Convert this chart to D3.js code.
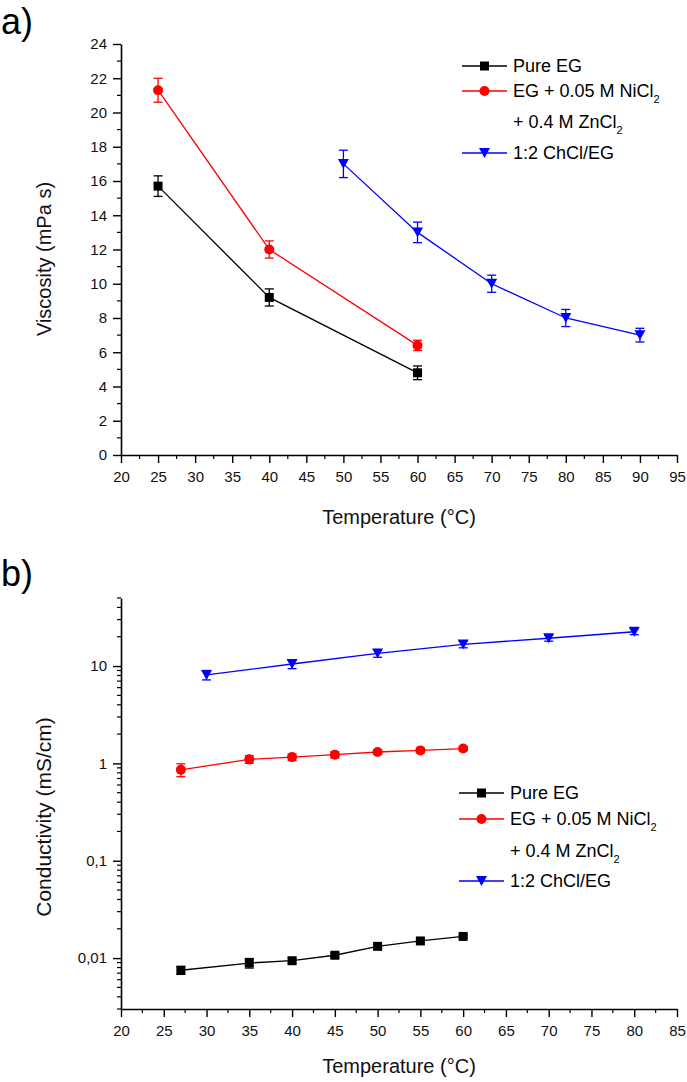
<!DOCTYPE html>
<html><head><meta charset="utf-8">
<script src="https://cdn.jsdelivr.net/npm/d3@7"></script>
<style>
html,body{margin:0;padding:0;background:#fff;}
svg{display:block;font-family:"Liberation Sans",Arial,sans-serif;}
</style></head>
<body>
<script>
// ---------- Data: (a) viscosity ----------
const seriesNames = ["Pure EG", "EG + 0.05 M NiCl2 + 0.4 M ZnCl2", "1:2 ChCl/EG"];
const colors = ["#000000", "#ff0000", "#0000ff"];
const symbols = ["square", "circle", "triangleDown"];

const viscEG_T = [25, 40, 60];
const viscEG = [15.7, 9.2, 4.8];
const viscEG_err = [0.6, 0.5, 0.4];
const viscNi_T = [25, 40, 60];
const viscNi = [21.3, 12.0, 6.4];
const viscNi_err = [0.7, 0.5, 0.3];
const viscChCl_T = [50, 60, 70, 80, 90];
const viscChCl = [17.0, 13.0, 10.0, 8.0, 7.0];
const viscChCl_err = [0.8, 0.6, 0.5, 0.5, 0.4];
const viscYTicks = [0, 2, 4, 6, 8, 10, 12, 14, 16, 18, 20, 22, 24];
const viscXTicks = [20, 25, 30, 35, 40, 45, 50, 55, 60, 65, 70, 75, 80, 85, 90, 95];

// ---------- Data: (b) conductivity ----------
const condEG_T = [27, 35, 40, 45, 50, 55, 60];
const condEG = [0.0075, 0.0089, 0.0094, 0.0107, 0.0132, 0.0150, 0.0167];
const condEG_err = [0.0007, 0.0010, 0.0006, 0.0006, 0.0006, 0.0006, 0.0006];
const condNi_T = [27, 35, 40, 45, 50, 55, 60];
const condNi = [0.86, 1.10, 1.16, 1.23, 1.31, 1.36, 1.42];
const condNi_err = [0.13, 0.10, 0.09, 0.09, 0.07, 0.07, 0.07];
const condChCl_T = [30, 40, 50, 60, 70, 80];
const condChCl = [8.1, 10.5, 13.5, 16.7, 19.3, 22.5];
const condChCl_err = [0.9, 1.1, 1.2, 1.3, 1.3, 1.5];
const condYTicks = [0.01, 0.1, 1, 10];
const condYLabels = ["0,01", "0,1", "1", "10"];
const condXTicks = [20, 25, 30, 35, 40, 45, 50, 55, 60, 65, 70, 75, 80, 85];

const W = 687, H = 1082;
const svg = d3.select("body").append("svg").attr("width", W).attr("height", H);

function symbolPath(type, size) {
  const s = size;
  if (type === "square") return `M${-s/2},${-s/2}h${s}v${s}h${-s}Z`;
  if (type === "circle") return d3.symbol(d3.symbolCircle, Math.PI * (s/2) * (s/2))();
  const h = s * 0.9;
  return `M${-s/2},${-h/2}L${s/2},${-h/2}L0,${h/2}Z`;
}
function symSize(sym) { return sym === "triangleDown" ? 11 : (sym === "circle" ? 10 : 9); }

function drawSeries(g, x, y, xs, ys, es, color, sym) {
  const pts = xs.map((t, i) => ({ t, v: ys[i], e: es[i] }));
  const line = d3.line().x(d => x(d.t)).y(d => y(d.v));
  g.append("path").datum(pts).attr("d", line).attr("fill", "none")
    .attr("stroke", color).attr("stroke-width", 1.3);
  const eb = g.append("g").attr("stroke", color).attr("stroke-width", 1.3);
  pts.forEach(d => {
    const y1 = y(d.v + d.e), y2 = y(Math.max(d.v - d.e, 1e-6));
    const cx = x(d.t);
    eb.append("line").attr("x1", cx).attr("x2", cx).attr("y1", y1).attr("y2", y2);
    eb.append("line").attr("x1", cx - 4.5).attr("x2", cx + 4.5).attr("y1", y1).attr("y2", y1);
    eb.append("line").attr("x1", cx - 4.5).attr("x2", cx + 4.5).attr("y1", y2).attr("y2", y2);
  });
  g.selectAll(null).data(pts).enter().append("path")
    .attr("transform", d => `translate(${x(d.t)},${y(d.v)})`)
    .attr("d", symbolPath(sym, symSize(sym)))
    .attr("fill", color);
}

function styleAxis(g) {
  g.selectAll(".domain").attr("stroke", "#000").attr("stroke-width", 1.6);
  g.selectAll(".tick line").attr("stroke", "#000").attr("stroke-width", 1.4);
  g.selectAll(".tick text").attr("font-size", 15).attr("fill", "#111")
    .attr("font-family", "'Liberation Sans',Arial,sans-serif");
}

function legend(g, x0, rows) {
  const lx1 = x0, lx2 = x0 + 45, mx = x0 + 22.5, tx = x0 + 51;
  const ent = [
    { y: rows[0], i: 0 },
    { y: rows[1], i: 1 },
    { y: rows[3], i: 2 }
  ];
  ent.forEach(e => {
    g.append("line").attr("x1", lx1).attr("x2", lx2).attr("y1", e.y).attr("y2", e.y)
      .attr("stroke", colors[e.i]).attr("stroke-width", 1.3);
    g.append("path").attr("transform", `translate(${mx},${e.y})`)
      .attr("d", symbolPath(symbols[e.i], symSize(symbols[e.i])))
      .attr("fill", colors[e.i]);
  });
  const fs = 18;
  g.append("text").attr("x", tx).attr("y", rows[0]).attr("dy", "0.36em").attr("font-size", fs).text("Pure EG");
  const t1 = g.append("text").attr("x", tx).attr("y", rows[1]).attr("dy", "0.36em").attr("font-size", fs);
  t1.append("tspan").text("EG + 0.05 M NiCl");
  t1.append("tspan").attr("font-size", 11).attr("dy", "6").text("2");
  const t2 = g.append("text").attr("x", tx).attr("y", rows[2]).attr("dy", "0.36em").attr("font-size", fs);
  t2.append("tspan").text("+ 0.4 M ZnCl");
  t2.append("tspan").attr("font-size", 11).attr("dy", "6").text("2");
  g.append("text").attr("x", tx).attr("y", rows[3]).attr("dy", "0.36em").attr("font-size", fs).text("1:2 ChCl/EG");
}

// ================= Panel (a) =================
{
  const g = svg.append("g");
  const x = d3.scaleLinear().domain([20, 95]).range([121, 677]);
  const y = d3.scaleLinear().domain([0, 24]).range([455, 44]);

  const minorY = d3.range(1, 24, 2);
  g.selectAll(null).data(minorY).enter().append("line")
    .attr("x1", 121 - 4).attr("x2", 121).attr("y1", d => y(d)).attr("y2", d => y(d))
    .attr("stroke", "#000").attr("stroke-width", 1.2);
  const minorX = d3.range(22.5, 95, 5);
  g.selectAll(null).data(minorX).enter().append("line")
    .attr("x1", d => x(d)).attr("x2", d => x(d)).attr("y1", 455).attr("y2", 455 + 4)
    .attr("stroke", "#000").attr("stroke-width", 1.2);

  const ay = g.append("g").attr("transform", "translate(121,0)")
    .call(d3.axisLeft(y).tickValues(viscYTicks).tickSize(8).tickSizeOuter(0).tickPadding(6).tickFormat(d3.format("d")));
  styleAxis(ay);
  const ax = g.append("g").attr("transform", "translate(0,455)")
    .call(d3.axisBottom(x).tickValues(viscXTicks).tickSize(8).tickSizeOuter(0).tickPadding(8).tickFormat(d3.format("d")));
  styleAxis(ax);

  drawSeries(g, x, y, viscEG_T, viscEG, viscEG_err, colors[0], symbols[0]);
  drawSeries(g, x, y, viscNi_T, viscNi, viscNi_err, colors[1], symbols[1]);
  drawSeries(g, x, y, viscChCl_T, viscChCl, viscChCl_err, colors[2], symbols[2]);

  g.append("text").attr("x", 399).attr("y", 517).attr("dy", "0.35em").attr("text-anchor", "middle")
    .attr("font-size", 20).attr("fill", "#111").text("Temperature (°C)");
  g.append("text").attr("transform", "translate(44,259) rotate(-90)").attr("dy", "0.35em")
    .attr("text-anchor", "middle").attr("font-size", 20).attr("fill", "#111").text("Viscosity (mPa s)");
  g.append("text").attr("x", 1).attr("y", 34).attr("font-size", 36).attr("fill", "#000").text("a)");

  legend(g, 462, [66, 91, 122, 153]);
}

// ================= Panel (b) =================
{
  const g = svg.append("g");
  const x = d3.scaleLinear().domain([20, 85]).range([121, 677]);
  const y = d3.scaleLog().domain([0.003, 50]).range([1009, 598]);

  const minorY = y.ticks().filter(v => !condYTicks.some(t => Math.abs(t - v) / t < 1e-6));
  g.selectAll(null).data(minorY).enter().append("line")
    .attr("x1", 121 - 4).attr("x2", 121).attr("y1", d => y(d)).attr("y2", d => y(d))
    .attr("stroke", "#000").attr("stroke-width", 1.2);
  const minorX = d3.range(22.5, 85, 5);
  g.selectAll(null).data(minorX).enter().append("line")
    .attr("x1", d => x(d)).attr("x2", d => x(d)).attr("y1", 1009).attr("y2", 1009 + 4)
    .attr("stroke", "#000").attr("stroke-width", 1.2);

  const ay = g.append("g").attr("transform", "translate(121,0)")
    .call(d3.axisLeft(y).tickValues(condYTicks).tickSize(8).tickSizeOuter(0).tickPadding(6)
      .tickFormat((d, i) => condYLabels[i]));
  styleAxis(ay);
  const ax = g.append("g").attr("transform", "translate(0,1009)")
    .call(d3.axisBottom(x).tickValues(condXTicks).tickSize(8).tickSizeOuter(0).tickPadding(8).tickFormat(d3.format("d")));
  styleAxis(ax);

  drawSeries(g, x, y, condEG_T, condEG, condEG_err, colors[0], symbols[0]);
  drawSeries(g, x, y, condNi_T, condNi, condNi_err, colors[1], symbols[1]);
  drawSeries(g, x, y, condChCl_T, condChCl, condChCl_err, colors[2], symbols[2]);

  g.append("text").attr("x", 399).attr("y", 1066).attr("dy", "0.35em").attr("text-anchor", "middle")
    .attr("font-size", 20).attr("fill", "#111").text("Temperature (°C)");
  g.append("text").attr("transform", "translate(44,817) rotate(-90)").attr("dy", "0.35em")
    .attr("text-anchor", "middle").attr("font-size", 21).attr("fill", "#111").text("Conductivity (mS/cm)");
  g.append("text").attr("x", 1).attr("y", 586).attr("font-size", 36).attr("fill", "#000").text("b)");

  legend(g, 459, [793, 819, 851, 881]);
}
</script>
</body></html>
